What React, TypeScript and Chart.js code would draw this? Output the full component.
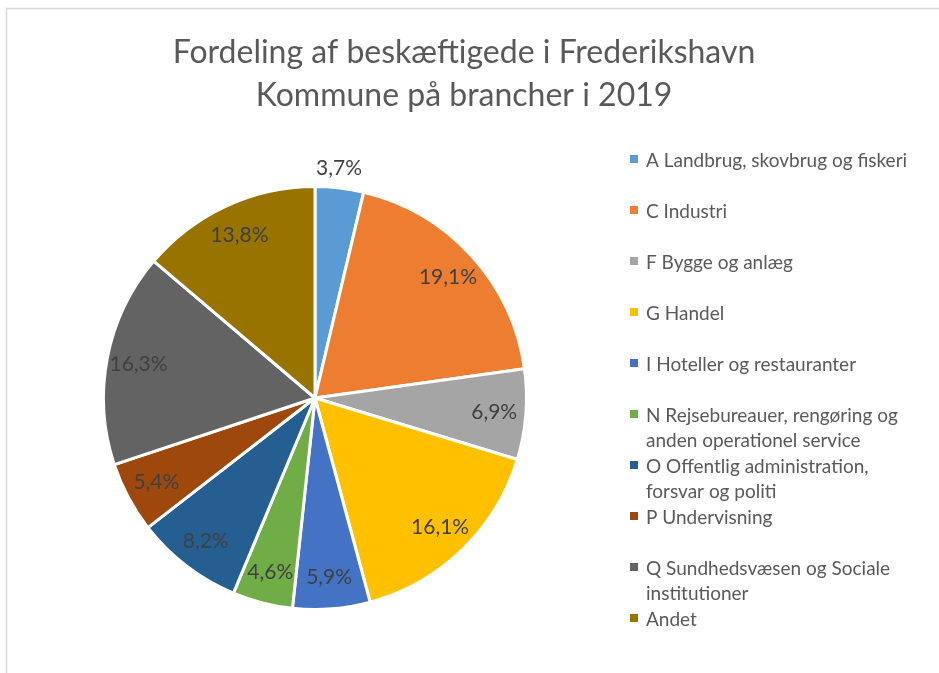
import React, { useEffect, useRef } from "react";
import { Chart, registerables } from "chart.js";

Chart.register(...registerables);

const categories = [
  "A Landbrug, skovbrug og fiskeri",
  "C Industri",
  "F Bygge og anlæg",
  "G Handel",
  "I Hoteller og restauranter",
  "N Rejsebureauer, rengøring og\nanden operationel service",
  "O Offentlig administration,\nforsvar og politi",
  "P Undervisning",
  "Q Sundhedsvæsen og Sociale\ninstitutioner",
  "Andet",
];
const shares = [3.7, 19.1, 6.9, 16.1, 5.9, 4.6, 8.2, 5.4, 16.3, 13.8];
const colors = [
  "#5B9BD5",
  "#ED7D31",
  "#A5A5A5",
  "#FFC000",
  "#4472C4",
  "#70AD47",
  "#255E91",
  "#9E480E",
  "#636363",
  "#997300",
];
const titleLines = ["Fordeling af beskæftigede i Frederikshavn", "Kommune på brancher i 2019"];

const FONT = "Lato, 'Open Sans', sans-serif";

const decor = {
  id: "decor",
  beforeDraw(chart: any) {
    const ctx = chart.ctx;
    ctx.save();
    ctx.fillStyle = "#ffffff";
    ctx.fillRect(0, 0, chart.width, chart.height);
    ctx.strokeStyle = "#D9D9D9";
    ctx.lineWidth = 1.5;
    ctx.strokeRect(6.5, 8.5, chart.width + 20, chart.height + 20);
    ctx.restore();
  },
  afterDraw(chart: any) {
    const ctx = chart.ctx;
    ctx.save();
    // title
    ctx.fillStyle = "#595959";
    ctx.font = `32px ${FONT}`;
    ctx.textAlign = "center";
    ctx.textBaseline = "alphabetic";
    ctx.fillText(titleLines[0], 464, 63);
    ctx.fillText(titleLines[1], 464, 106);

    // data labels
    const meta = chart.getDatasetMeta(0);
    ctx.font = `21px ${FONT}`;
    ctx.fillStyle = "#404040";
    meta.data.forEach((arc: any, i: number) => {
      const { x, y, startAngle, endAngle, outerRadius } = arc.getProps(
        ["x", "y", "startAngle", "endAngle", "outerRadius"],
        true
      );
      const mid = (startAngle + endAngle) / 2;
      const text = shares[i].toFixed(1).replace(".", ",") + "%";
      const w = ctx.measureText(text).width;
      const lr = outerRadius * 0.85;
      const arcLen = (endAngle - startAngle) * lr;
      ctx.textAlign = "center";
      ctx.textBaseline = "middle";
      if (arcLen > w + 4) {
        ctx.fillText(text, x + Math.cos(mid) * lr, y + Math.sin(mid) * lr);
      } else {
        ctx.fillText(text, x + w / 2 + 1, y - outerRadius - 18);
      }
    });

    // legend
    ctx.font = `19px ${FONT}`;
    ctx.textAlign = "left";
    ctx.textBaseline = "alphabetic";
    categories.forEach((label, i) => {
      const base = 167 + 51 * i;
      ctx.fillStyle = colors[i];
      ctx.fillRect(630, base - 12, 8, 8);
      ctx.fillStyle = "#595959";
      label.split("\n").forEach((line, j) => {
        ctx.fillText(line, 646, base + j * 25);
      });
    });
    ctx.restore();
  },
};

export default function App() {
  const ref = useRef<HTMLCanvasElement | null>(null);
  useEffect(() => {
    if (!ref.current) return;
    const chart = new Chart(ref.current, {
      type: "pie",
      data: {
        labels: categories,
        datasets: [
          {
            data: shares,
            backgroundColor: colors,
            borderColor: "#ffffff",
            borderWidth: 3,
          },
        ],
      },
      options: {
        responsive: false,
        animation: false,
        layout: { padding: { left: 102, top: 184, right: 411, bottom: 61 } },
        plugins: {
          legend: { display: false },
          title: { display: false },
          tooltip: { enabled: false },
        },
      },
      plugins: [decor],
    });
    return () => chart.destroy();
  }, []);
  return (
    <div style={{ position: "absolute", left: 0, top: 0, width: 939, height: 673 }}>
      <canvas ref={ref} width={939} height={673} />
    </div>
  );
}
